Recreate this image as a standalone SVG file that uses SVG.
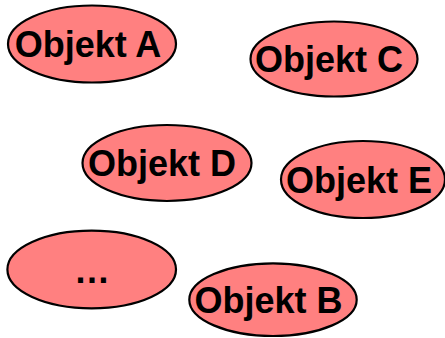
<svg xmlns="http://www.w3.org/2000/svg" width="445" height="338" viewBox="0 0 445 338">
  <style>
    .obj ellipse { fill: #ff8080; stroke: #000; stroke-width: 2.2; }
    .obj text { font-family: "Liberation Sans", Arial, sans-serif; font-weight: bold; font-size: 36px; fill: #000; text-anchor: middle; }
  </style>
  <rect width="445" height="338" fill="#fff"/>
  <g id="connectors"></g>
  <g id="objekt-a" class="obj">
    <ellipse cx="92" cy="44" rx="84" ry="38.5"/>
    <text x="88" y="57">Objekt A</text>
  </g>
  <g id="objekt-c" class="obj">
    <ellipse cx="334" cy="59" rx="83.5" ry="37.5"/>
    <text x="329" y="72">Objekt C</text>
  </g>
  <g id="objekt-d" class="obj">
    <ellipse cx="167" cy="163" rx="84.5" ry="38"/>
    <text x="162" y="175.5">Objekt D</text>
  </g>
  <g id="objekt-e" class="obj">
    <ellipse cx="363" cy="179.5" rx="82" ry="38.5"/>
    <text x="359" y="193">Objekt E</text>
  </g>
  <g id="weitere" class="obj">
    <ellipse cx="91.7" cy="269.5" rx="84.3" ry="38.8"/>
    <text x="92" y="283">…</text>
  </g>
  <g id="objekt-b" class="obj">
    <ellipse cx="273" cy="299.7" rx="83.7" ry="36.3"/>
    <text x="268.5" y="313">Objekt B</text>
  </g>
</svg>
